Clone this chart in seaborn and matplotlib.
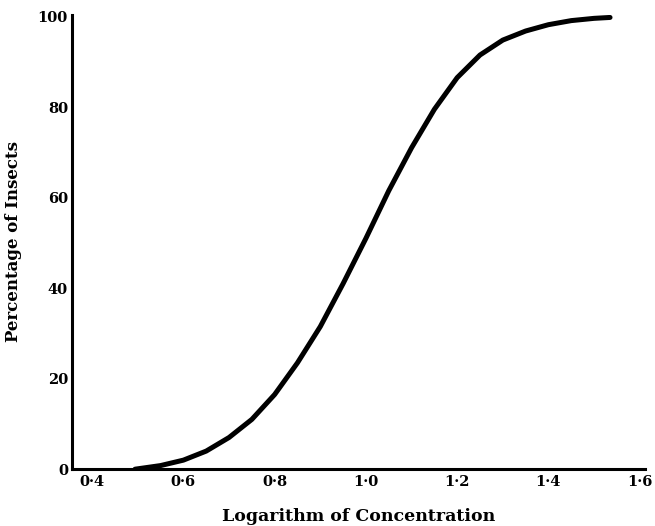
import matplotlib
matplotlib.use("Agg")
import matplotlib.pyplot as plt
import seaborn as sns
import pandas as pd

# Values
log_conc = [0.494, 0.55, 0.60, 0.65, 0.70, 0.75, 0.80, 0.85, 0.90, 0.95,
            1.00, 1.05, 1.10, 1.15, 1.20, 1.25, 1.30, 1.35, 1.40, 1.45,
            1.50, 1.535]
pct_insects = [0.0, 0.8, 2.0, 4.0, 7.0, 11.0, 16.5, 23.5, 31.5, 41.0,
               51.0, 61.5, 71.0, 79.5, 86.5, 91.5, 94.8, 96.8, 98.2, 99.1,
               99.6, 99.8]
x_ticks = [0.4, 0.6, 0.8, 1.0, 1.2, 1.4, 1.6]
x_tick_labels = ["0·4", "0·6", "0·8", "1·0", "1·2", "1·4", "1·6"]
y_ticks = [0, 20, 40, 60, 80, 100]
y_tick_labels = ["0", "20", "40", "60", "80", "100"]

df = pd.DataFrame({"x": log_conc, "y": pct_insects})

sns.set_style("white")
plt.rcParams["font.family"] = ["DejaVu Serif"]
plt.rcParams["text.color"] = "black"
plt.rcParams["axes.labelcolor"] = "black"
plt.rcParams["xtick.color"] = "black"
plt.rcParams["ytick.color"] = "black"

fig = plt.figure(figsize=(6.55, 5.26), dpi=100)
ax = fig.add_axes([0.110, 0.108, 0.875, 0.864])

sns.lineplot(data=df, x="x", y="y", ax=ax, color="black", linewidth=3.6,
             solid_capstyle="round", solid_joinstyle="round",
             estimator=None, sort=False)

ax.set_xlim(0.356, 1.612)
ax.set_ylim(0, 100.4)
for s in ["top", "right"]:
    ax.spines[s].set_visible(False)
for s in ["left", "bottom"]:
    ax.spines[s].set_linewidth(2.2)
    ax.spines[s].set_color("black")

ax.set_xticks(x_ticks)
ax.set_xticklabels(x_tick_labels, fontweight="bold", fontsize=10.5)
ax.set_yticks(y_ticks)
ax.set_yticklabels(y_tick_labels, fontweight="bold", fontsize=10.5)
ax.tick_params(axis="both", direction="in", length=6, width=2,
               colors="black", pad=3)
ax.tick_params(axis="x", pad=4)

ax.set_xlabel("Logarithm of Concentration", fontweight="bold", fontsize=12.5,
              labelpad=14)
ax.set_ylabel("Percentage of Insects", fontweight="bold", fontsize=12,
              labelpad=11)

fig.savefig("out.png", dpi=100, facecolor="white")
